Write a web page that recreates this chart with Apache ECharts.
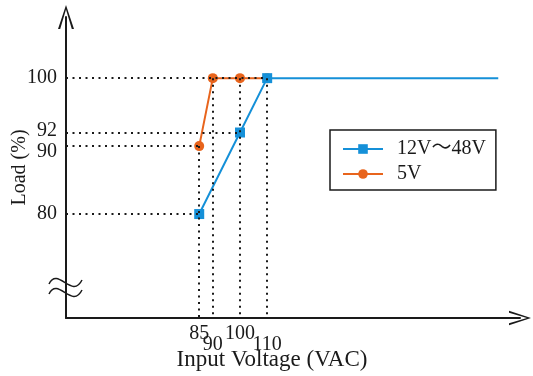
<!DOCTYPE html>
<html>
<head>
<meta charset="utf-8">
<script src="https://cdn.jsdelivr.net/npm/echarts@6/dist/echarts.min.js"></script>
<style>html,body{margin:0;padding:0;background:#fff}#c{width:533px;height:376px}</style>
</head>
<body>
<div id="c"></div>
<script>
// ---- data ----
const seriesNames = ['12V～48V', '5V'];
const blueX = [85, 100, 110, 195];
const blueY = [80, 92, 100, 100];
const blueMarker = [true, true, true, false];
const orangeX = [85, 90, 100, 110];
const orangeY = [90, 100, 100, 100];
const xTickLabelsUpper = [85, 100];
const xTickLabelsLower = [90, 110];
const yTickLabels = [80, 90, 92, 100];
// guide lines: [yValue, xEnd]
const guideH = [[100, 110], [92, 100], [90, 85], [80, 85]];
// guide lines: [xValue, yTop]
const guideV = [[85, 90], [90, 100], [100, 100], [110, 100]];

const X_MIN = 36, X_MAX = 203, Y_MIN = 64.7, Y_MAX = 109;
const FONT = "'Liberation Serif', 'Times New Roman', 'Noto Sans CJK JP', serif";
const BLUE = '#1590d8', ORANGE = '#e8641c', INK = '#1a1a1a';

const guideData = [];
guideH.forEach(([y, x]) => guideData.push([{coord: [X_MIN, y]}, {coord: [x, y]}]));
guideV.forEach(([x, y]) => guideData.push([{coord: [x, y]}, {coord: [x, Y_MIN]}]));

const chevronUp = 'path://M8,0 L0,24 L2.2,24 L8,4.5 L13.8,24 L16,24 Z';

const baseLabel = {fontFamily: FONT, fontSize: 20, color: INK, hideOverlap: false, interval: 0};

const chart = echarts.init(document.getElementById('c'), null, {renderer: 'canvas'});
chart.setOption({
  animation: false,
  backgroundColor: '#fff',
  grid: {left: 66, right: 13, top: 17, bottom: 58, containLabel: false, outerBoundsMode: 'none'},
  xAxis: [{
    type: 'value', min: X_MIN, max: X_MAX,
    name: 'Input Voltage (VAC)', nameLocation: 'middle', nameGap: 30, nameMoveOverlap: false,
    nameTextStyle: {fontFamily: FONT, fontSize: 23, lineHeight: 23, color: INK, padding: [0, 42, 0, 0]},
    axisLine: {show: true, onZero: false, lineStyle: {color: INK, width: 2},
      symbol: ['none', chevronUp], symbolSize: [17, 22]},
    axisTick: {show: false},
    splitLine: {show: false},
    axisLabel: Object.assign({customValues: xTickLabelsUpper, margin: 6}, baseLabel)
  }, {
    type: 'value', min: X_MIN, max: X_MAX, position: 'bottom',
    axisLine: {show: false}, axisTick: {show: false}, splitLine: {show: false},
    axisLabel: Object.assign({customValues: xTickLabelsLower, margin: 17}, baseLabel)
  }],
  yAxis: {
    type: 'value', min: Y_MIN, max: Y_MAX,
    name: 'Load (%)', nameLocation: 'middle', nameGap: 36, nameMoveOverlap: false,
    nameTextStyle: {fontFamily: FONT, fontSize: 20, color: INK},
    axisLine: {show: true, onZero: false, lineStyle: {color: INK, width: 2},
      symbol: ['none', chevronUp], symbolSize: [16, 24]},
    axisTick: {show: false},
    splitLine: {show: false},
    axisLabel: Object.assign({
      customValues: yTickLabels, margin: 9,
      formatter: v => v === 92 ? '{u|92}' : (v === 90 ? '{d|90}' : String(v)),
      rich: {
        u: {fontFamily: FONT, fontSize: 20, color: INK, padding: [0, 0, 4, 0]},
        d: {fontFamily: FONT, fontSize: 20, color: INK, padding: [12, 0, 0, 0]}
      }
    }, baseLabel)
  },
  legend: {
    orient: 'vertical', left: 330, top: 130,
    data: seriesNames,
    borderColor: INK, borderWidth: 1.5, borderRadius: 0,
    padding: [9, 10, 6, 12], itemGap: 5,
    itemWidth: 40, itemHeight: 12,
    textStyle: {fontFamily: FONT, fontSize: 20, color: INK, padding: [0, 0, 0, 9]}
  },
  graphic: [
    {type: 'bezierCurve', shape: {x1: 49, y1: 284, cpx1: 58, cpy1: 266, cpx2: 72, cpy2: 300, x2: 82, y2: 280},
      style: {stroke: INK, lineWidth: 1.5, fill: null}},
    {type: 'bezierCurve', shape: {x1: 49, y1: 294, cpx1: 58, cpy1: 276, cpx2: 72, cpy2: 310, x2: 82, y2: 290},
      style: {stroke: INK, lineWidth: 1.5, fill: null}}
  ],
  series: [
    {
      name: seriesNames[0], type: 'line', z: 4,
      data: blueX.map((x, i) => ({value: [x, blueY[i]], symbol: blueMarker[i] ? 'rect' : 'none'})),
      symbol: 'rect', symbolSize: 10, showAllSymbol: true,
      lineStyle: {color: BLUE, width: 2}, itemStyle: {color: BLUE},
      markLine: {
        silent: true, symbol: ['none', 'none'], label: {show: false},
        lineStyle: {color: INK, type: [2, 4.5], width: 2, cap: 'butt'},
        data: guideData
      }
    },
    {
      name: seriesNames[1], type: 'line', z: 3,
      data: orangeX.map((x, i) => [x, orangeY[i]]),
      symbol: 'circle', symbolSize: 10, showAllSymbol: true,
      lineStyle: {color: ORANGE, width: 2}, itemStyle: {color: ORANGE}
    }
  ]
});
</script>
</body>
</html>
